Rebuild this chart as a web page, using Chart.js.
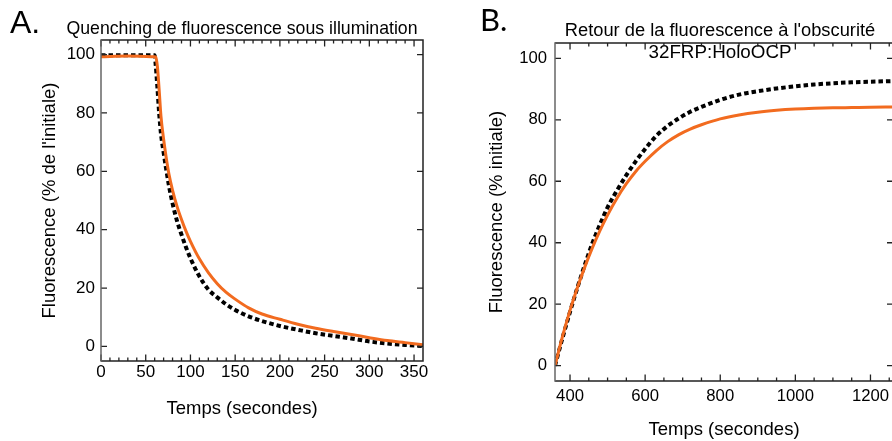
<!DOCTYPE html>
<html><head><meta charset="utf-8">
<script src="https://cdn.jsdelivr.net/npm/chart.js@4.4.0/dist/chart.umd.min.js"></script>
<style>
html,body{margin:0;padding:0;width:892px;height:441px;overflow:hidden;background:#fff;}
#wrap{position:relative;width:892px;height:441px;overflow:hidden;}
canvas{position:absolute;top:0;}
#cA{left:0;}
#cB{left:446px;}
.lbl{position:absolute;color:#000;white-space:nowrap;}
#lA{left:10px;top:6px;font:32px/32px 'Liberation Sans',Arial,sans-serif;}
#lB{left:480px;top:4px;font:31px/31px Lato,sans-serif;}
</style></head>
<body><div id="wrap">
<canvas id="cA" width="484" height="441"></canvas>
<canvas id="cB" width="548" height="441"></canvas>
<div id="lA" class="lbl">A.</div>
<div id="lB" class="lbl">B.</div>
</div>
<script>
// ---- Panel A data : quenching under illumination ----
const timeA = [0, 30, 60, 61, 63, 65, 67, 70, 73, 76, 80, 85, 90, 95, 100, 110, 120, 130, 140, 150, 165, 180, 200, 220, 240, 260, 280, 300, 320, 340, 360];
const quenchBlack = [99.8, 99.8, 99.8, 97, 89, 80, 73, 66.5, 60.5, 55, 49, 43, 38.3, 34, 30.2, 24, 19.5, 16.8, 14.4, 12.5, 10.3, 8.7, 7, 5.7, 4.5, 3.6, 2.7, 1.7, 1.0, 0.5, 0.1];
const quenchOrange = [99.3, 99.5, 99.3, 99.2, 96, 88, 79, 71, 64.5, 59, 53.5, 48, 43.5, 39.5, 36, 30, 25.3, 21.5, 18.5, 16.2, 13.2, 11.1, 9.3, 7.6, 6.2, 5.1, 4.1, 3.0, 2.0, 1.3, 0.6];

// ---- Panel B data : recovery in the dark ----
const timeB = [360, 380, 400, 420, 440, 460, 480, 500, 525, 550, 575, 600, 630, 660, 690, 720, 750, 800, 850, 900, 950, 1000, 1050, 1100, 1150, 1200, 1260];
const recoveryBlack = [0, 9, 17.5, 25.5, 33, 40, 46, 51.5, 57, 62, 66.5, 70.5, 74.8, 78, 80.5, 82.6, 84.2, 86.5, 88.2, 89.3, 90.2, 90.9, 91.5, 91.9, 92.2, 92.4, 92.6];
const recoveryOrange = [0, 9.5, 18, 25.5, 32.3, 38.5, 44, 49, 54.5, 59.2, 63.2, 66.5, 70, 72.9, 75.2, 77, 78.4, 80.3, 81.6, 82.5, 83.1, 83.5, 83.75, 83.9, 84, 84.1, 84.2];

// ---- tick labels ----
const tickLabelsAx = [0, 50, 100, 150, 200, 250, 300, 350];
const tickLabelsAy = [0, 20, 40, 60, 80, 100];
const tickMarksAx = [0,10,20,30,40,50,60,70,80,90,100,110,120,130,140,150,160,170,180,190,200,210,220,230,240,250,260,270,280,290,300,310,320,330,340,350];
const tickLabelsBx = [400, 600, 800, 1000, 1200];
const tickLabelsBy = [0, 20, 40, 60, 80, 100];
const tickMarksBx = [400,450,500,550,600,650,700,750,800,850,900,950,1000,1050,1100,1150,1200,1250];

const FONT = "'Liberation Sans', Arial, Helvetica, sans-serif";
const ORANGE = '#f26b1f';

const frameTicks = {
  id: 'frameTicks',
  afterDatasetsDraw(chart, args, o) {
    const {ctx, chartArea: a} = chart;
    const x = chart.scales.x, y = chart.scales.y;
    ctx.save();
    ctx.lineCap = 'butt';
    ctx.strokeStyle = '#222';
    ctx.lineWidth = 1.3;
    ctx.beginPath();
    o.xTicks.forEach(v => {
      const p = x.getPixelForValue(v);
      const len = o.xMajor.includes(v) ? 6.5 : 3.5;
      ctx.moveTo(p, a.bottom); ctx.lineTo(p, a.bottom - len);
      ctx.moveTo(p, a.top); ctx.lineTo(p, a.top + len);
    });
    o.yTicks.forEach(v => {
      const p = y.getPixelForValue(v);
      ctx.moveTo(a.left, p); ctx.lineTo(a.left + 6, p);
      ctx.moveTo(a.right, p); ctx.lineTo(a.right - 6, p);
    });
    ctx.stroke();
    ctx.lineWidth = 1.5;
    ctx.strokeStyle = '#222';
    ctx.beginPath();
    ctx.moveTo(a.left, a.top); ctx.lineTo(a.right, a.top);
    ctx.lineTo(a.right, a.bottom); ctx.lineTo(a.left, a.bottom);
    ctx.stroke();
    ctx.strokeStyle = '#666';
    ctx.beginPath();
    ctx.moveTo(a.left, a.top - 0.75); ctx.lineTo(a.left, a.bottom + 0.75);
    ctx.stroke();
    ctx.restore();
  }
};

function pts(t, v) { return t.map((tt, i) => ({x: tt, y: v[i]})); }

function datasets(t, orange, black) {
  return [
    {data: pts(t, orange), borderColor: ORANGE, borderWidth: 3, pointRadius: 0, fill: false,
     cubicInterpolationMode: 'monotone', xAxisID: 'x', yAxisID: 'y'},
    {data: pts(t, black), borderColor: '#000', borderWidth: 4, borderDash: [4.5, 3], pointRadius: 0, fill: false,
     cubicInterpolationMode: 'monotone', xAxisID: 'x', yAxisID: 'y'}
  ];
}

function makeChart(id, cfg) {
  return new Chart(document.getElementById(id), {
    type: 'line',
    data: {datasets: datasets(cfg.t, cfg.orange, cfg.black)},
    plugins: [frameTicks],
    options: {
      responsive: false, animation: false, events: [],
      layout: {padding: 0},
      scales: {
        x: {
          type: 'linear', min: cfg.xmin, max: cfg.xmax,
          afterBuildTicks: s => { s.ticks = cfg.xLabels.map(v => ({value: v})); },
          afterFit: s => { s.height = cfg.xHeight; s.paddingLeft = 0; s.paddingRight = 0; },
          grid: {display: false, drawTicks: false}, border: {display: false},
          ticks: {font: {family: FONT, size: cfg.tickSize}, color: '#000', padding: cfg.xPad,
                  maxRotation: 0, autoSkip: false, callback: v => String(v)},
          title: cfg.xTitle ? {display: true, text: cfg.xTitle, font: {family: FONT, size: 18.5}, color: '#000',
                               padding: {top: 0, bottom: cfg.xTitlePad}} : {display: false}
        },
        y: {
          type: 'linear', position: 'left', min: -5, max: 105,
          afterBuildTicks: s => { s.ticks = cfg.yLabels.map(v => ({value: v})); },
          afterFit: s => { s.width = cfg.yWidth; s.paddingTop = 0; s.paddingBottom = 0; },
          grid: {display: false, drawTicks: false}, border: {display: false},
          ticks: {font: {family: FONT, size: cfg.tickSize}, color: '#000', padding: cfg.yPad, callback: v => String(v)},
          title: {display: true, text: cfg.yTitle, font: {family: FONT, size: 18.5}, color: '#000',
                  padding: {top: cfg.yTitlePad, bottom: 0}}
        },
        y2: {
          type: 'linear', position: 'right', min: -5, max: 105,
          afterFit: s => { s.width = cfg.rightWidth; s.paddingTop = 0; s.paddingBottom = 0; },
          grid: {display: false, drawTicks: false}, border: {display: false},
          ticks: {display: false}
        }
      },
      plugins: {
        legend: {display: false}, tooltip: {enabled: false},
        title: {display: true, text: cfg.title, color: '#000',
                font: {family: FONT, size: cfg.titleSize, weight: 'normal'}, padding: cfg.titlePadding},
        subtitle: cfg.subtitle,
        frameTicks: {xTicks: cfg.xMarks, xMajor: cfg.xMajor, yTicks: cfg.yLabels}
      }
    }
  });
}

makeChart('cA', {
  t: timeA, orange: quenchOrange, black: quenchBlack,
  xmin: 0, xmax: 360, xLabels: tickLabelsAx, yLabels: tickLabelsAy,
  xMarks: tickMarksAx, xMajor: tickLabelsAx,
  xHeight: 36.5, xPad: 1.3, yWidth: 101, yPad: 6, rightWidth: 61, tickSize: 17,
  xTitle: null, xTitlePad: 0,
  yTitle: "Fluorescence (% de l'initiale)", yTitlePad: 39,
  title: 'Quenching de fluorescence sous illumination', titleSize: 17.7,
  titlePadding: {top: 18.4, bottom: 0.36},
  subtitle: {display: true, position: 'bottom', text: 'Temps (secondes)', color: '#000',
             font: {family: FONT, size: 18.5, weight: 'normal'}, padding: {top: 0, bottom: 21.3}}
});

makeChart('cB', {
  t: timeB, orange: recoveryOrange, black: recoveryBlack,
  xmin: 360, xmax: 1260, xLabels: tickLabelsBx, yLabels: tickLabelsBy,
  xMarks: tickMarksBx, xMajor: tickLabelsBx,
  xHeight: 60, xPad: 5, yWidth: 109, yPad: 8, rightWidth: 101, tickSize: 16.7,
  xTitle: 'Temps (secondes)', xTitlePad: 0.3,
  yTitle: 'Fluorescence (% initiale)', yTitlePad: 40,
  title: "Retour de la fluorescence à l'obscurité", titleSize: 18.3,
  titlePadding: {top: 20.4, bottom: 0.64},
  subtitle: {display: true, position: 'top', text: '32FRP:HoloOCP', color: '#000',
             font: {family: FONT, size: 18.8, weight: 'normal'}, padding: {top: -0.98, bottom: -21.58}}
});
</script>
</body></html>
